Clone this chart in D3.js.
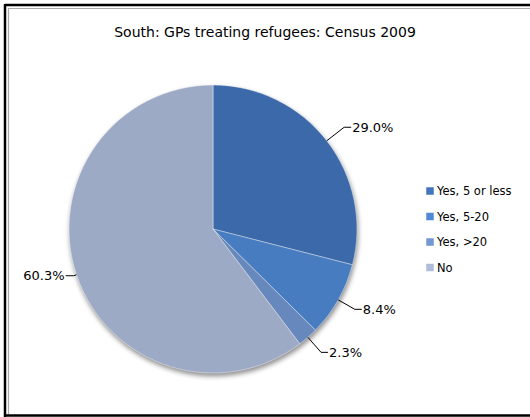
<!DOCTYPE html>
<html><head><meta charset="utf-8">
<script src="https://cdn.jsdelivr.net/npm/d3@7"></script>
<style>
html,body{margin:0;padding:0;background:#fff;}
svg{display:block;}
text{font-family:"DejaVu Sans",sans-serif;fill:#000;}
</style></head>
<body>
<script>
const title = "South: GPs treating refugees: Census 2009";
const categories = ["Yes, 5 or less", "Yes, 5-20", "Yes, >20", "No"];
const values = [29.0, 8.4, 2.3, 60.3];
const labels = ["29.0%", "8.4%", "2.3%", "60.3%"];
const colors = ["#4275bc", "#4f8ad6", "#7297d1", "#aebddc"];
const elbowExtra = [22, 19, 20, 3];

const W = 530, H = 417;
const svg = d3.select("body").append("svg").attr("width", W).attr("height", H);

svg.append("rect").attr("x",0).attr("y",0).attr("width",W).attr("height",H).attr("fill","#fff");
svg.append("line").attr("x1",5).attr("x2",W).attr("y1",5).attr("y2",5).attr("stroke","#000").attr("stroke-width",2.5);
svg.append("line").attr("x1",5).attr("x2",5).attr("y1",4).attr("y2",H).attr("stroke","#000").attr("stroke-width",2.5);
svg.append("line").attr("x1",4).attr("x2",W).attr("y1",415.5).attr("y2",415.5).attr("stroke","#000").attr("stroke-width",2.5);
svg.append("line").attr("x1",8.5).attr("x2",W).attr("y1",8.5).attr("y2",8.5).attr("stroke","#aaa").attr("stroke-width",1.2);
svg.append("line").attr("x1",8.5).attr("x2",8.5).attr("y1",8).attr("y2",414).attr("stroke","#aaa").attr("stroke-width",1.2);

svg.append("text").attr("x",265).attr("y",37).attr("text-anchor","middle")
  .style("font-size","14px").text(title);

const cx = 213, cy = 229, R = 144;
const defs = svg.append("defs");
const f = defs.append("filter").attr("id","sh").attr("x","-20%").attr("y","-20%").attr("width","140%").attr("height","140%")
  .attr("color-interpolation-filters","sRGB");
f.append("feGaussianBlur").attr("in","SourceAlpha").attr("stdDeviation",2.5).attr("result","b");
f.append("feOffset").attr("in","b").attr("dx",1).attr("dy",3).attr("result","o");
f.append("feComponentTransfer").attr("in","o").attr("result","o2").append("feFuncA").attr("type","linear").attr("slope",0.45);
const fm = f.append("feMerge"); fm.append("feMergeNode").attr("in","o2"); fm.append("feMergeNode").attr("in","SourceGraphic");

colors.forEach((c,i)=>{
  const g = defs.append("radialGradient").attr("id","g"+i).attr("gradientUnits","userSpaceOnUse")
    .attr("cx",cx).attr("cy",cy).attr("r",R);
  const base = d3.color(c);
  g.append("stop").attr("offset","0%").attr("stop-color",base.formatHex());
  g.append("stop").attr("offset","91%").attr("stop-color",base.formatHex());
  g.append("stop").attr("offset","95%").attr("stop-color",base.brighter(0.2).formatHex());
  g.append("stop").attr("offset","100%").attr("stop-color",base.darker(0.3).formatHex());
});

const pie = d3.pie().sort(null).value(d=>d)(values);
const arc = d3.arc().innerRadius(0).outerRadius(R);
const gp = svg.append("g").attr("transform",`translate(${cx},${cy})`).attr("filter","url(#sh)");
gp.selectAll("path").data(pie).join("path")
  .attr("d",arc).attr("fill",(d,i)=>`url(#g${i})`)
  .attr("stroke","rgba(255,255,255,0.4)").attr("stroke-width",1);

const gl = svg.append("g").attr("transform",`translate(${cx},${cy})`);
pie.forEach((d,i)=>{
  const a = (d.startAngle + d.endAngle)/2;
  const p1 = [R*Math.sin(a), -R*Math.cos(a)];
  const r2 = R + elbowExtra[i];
  const p2 = [r2*Math.sin(a), -r2*Math.cos(a)];
  const right = Math.sin(a) >= 0;
  const p3 = [p2[0] + (right?7:-8), p2[1]];
  gl.append("polyline").attr("points",[p1,p2,p3].map(p=>p.join(",")).join(" "))
    .attr("fill","none").attr("stroke","#000").attr("stroke-width",1);
  gl.append("text").attr("x",p3[0]+(right?1:-1)).attr("y",p2[1]).attr("dy","0.35em")
    .attr("text-anchor",right?"start":"end").style("font-size","13px").text(labels[i]);
});

const lg = svg.append("g").attr("transform","translate(426,191)");
categories.forEach((c,i)=>{
  const row = lg.append("g").attr("transform",`translate(0,${i*25.5})`);
  row.append("rect").attr("x",0).attr("y",-4).attr("width",8).attr("height",8)
    .attr("fill",colors[i]).attr("stroke","#fff").attr("stroke-width",0.5);
  row.append("text").attr("x",11).attr("y",0).attr("dy","0.35em")
    .style("font-size","11.5px").text(c);
});
</script>
</body></html>
